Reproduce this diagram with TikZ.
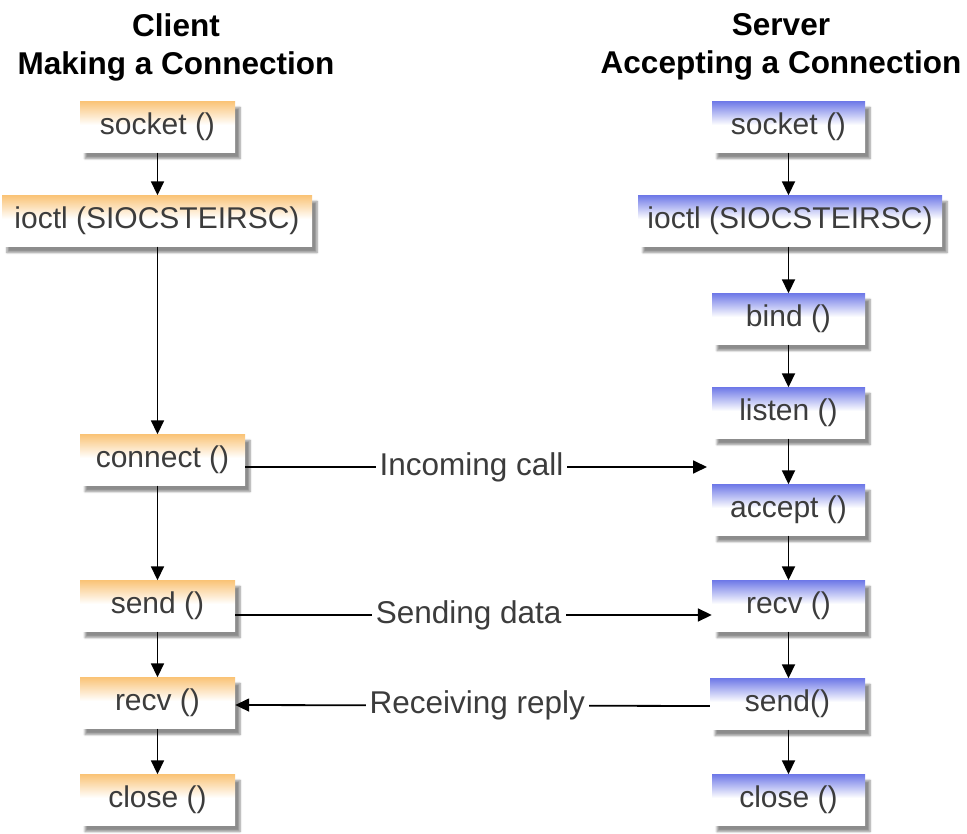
\documentclass[tikz,border=0pt]{standalone}
\usepackage{fontspec}
\setmainfont{Liberation Sans}
\usetikzlibrary{arrows.meta,shadows.blur,calc}

\definecolor{clienttop}{RGB}{250,196,120}
\definecolor{servertop}{RGB}{112,122,232}
\definecolor{boxtext}{RGB}{60,60,60}

\pgfdeclareverticalshading{clientshade}{100bp}{color(0bp)=(white); color(25bp)=(white); color(52bp)=(white); color(75bp)=(clienttop); color(100bp)=(clienttop)}
\pgfdeclareverticalshading{servershade}{100bp}{color(0bp)=(white); color(25bp)=(white); color(52bp)=(white); color(75bp)=(servertop); color(100bp)=(servertop)}

\tikzset{
  callbox/.style={minimum height=51pt, inner sep=0pt, text=boxtext,
    font=\fontsize{30}{32}\selectfont,
    blur shadow={shadow xshift=5pt, shadow yshift=-6pt, shadow blur steps=6, shadow opacity=45}},
  client/.style={callbox, shading=clientshade, minimum width=155pt},
  server/.style={callbox, shading=servershade, minimum width=153pt},
  flow/.style={line width=1.8pt, -{Triangle[length=14pt, width=13pt]}},
  msg/.style={fill=white, inner sep=4pt, text=boxtext, font=\fontsize{31.5}{33}\selectfont},
  heading/.style={align=center, font=\bfseries\fontsize{31.5}{38}\selectfont}
}

\begin{document}
\begin{tikzpicture}[x=1pt, y=-1pt]
  \useasboundingbox (0,0) rectangle (967,834);

  % Titulos das duas colunas
  \node[heading] (clienthead) at (176,47) {Client\\Making a Connection};
  \node[heading] (serverhead) at (781,47) {Server\\Accepting a Connection};

  % Cliente
  \node[client] (csocket) at (157.5,127) {socket ()};
  \node[client, minimum width=310pt] (cioctl) at (157,221) {ioctl (SIOCSTEIRSC)};
  \node[client, minimum width=165pt] (cconnect) at (162.5,460) {connect ()};
  \node[client] (csend) at (157.5,606) {send ()};
  \node[client] (crecv) at (157.5,703) {recv ()};
  \node[client] (cclose) at (157.5,800) {close ()};

  % Servidor
  \node[server] (ssocket) at (788.5,127) {socket ()};
  \node[server, minimum width=304pt] (sioctl) at (790,221) {ioctl (SIOCSTEIRSC)};
  \node[server] (sbind) at (788.5,319) {bind ()};
  \node[server] (slisten) at (788.5,413) {listen ()};
  \node[server] (saccept) at (788.5,510) {accept ()};
  \node[server] (srecv) at (788.5,606) {recv ()};
  \node[server, minimum width=155pt] (ssend) at (787.5,704) {send()};
  \node[server] (sclose) at (788.5,800) {close ()};

  % Setas verticais
  \foreach \a/\b in {csocket/cioctl, cioctl/cconnect, cconnect/csend, csend/crecv, crecv/cclose} {
    \draw[flow] (\a.south -| csocket) -- (\b.north -| csocket);
  }
  \foreach \a/\b in {ssocket/sioctl, sioctl/sbind, sbind/slisten, slisten/saccept, saccept/srecv, srecv/ssend, ssend/sclose} {
    \draw[flow] (\a.south -| ssocket) -- (\b.north -| ssocket);
  }

  % Mensagens entre cliente e servidor
  \coordinate (incoming) at (707,467);
  \draw[flow] ([yshift=-7pt]cconnect.east) -- node[msg, pos=0.49] (lincoming) {Incoming call} (incoming);
  \draw[flow] ([yshift=-9pt]csend.east) -- node[msg, pos=0.49] (lsending) {Sending data} ([yshift=-9pt]srecv.west);
  \draw[flow] ([yshift=-2pt]ssend.west) -- node[msg, pos=0.49] (lreceiving) {Receiving reply} ([yshift=-2pt]crecv.east);
\end{tikzpicture}
\end{document}
